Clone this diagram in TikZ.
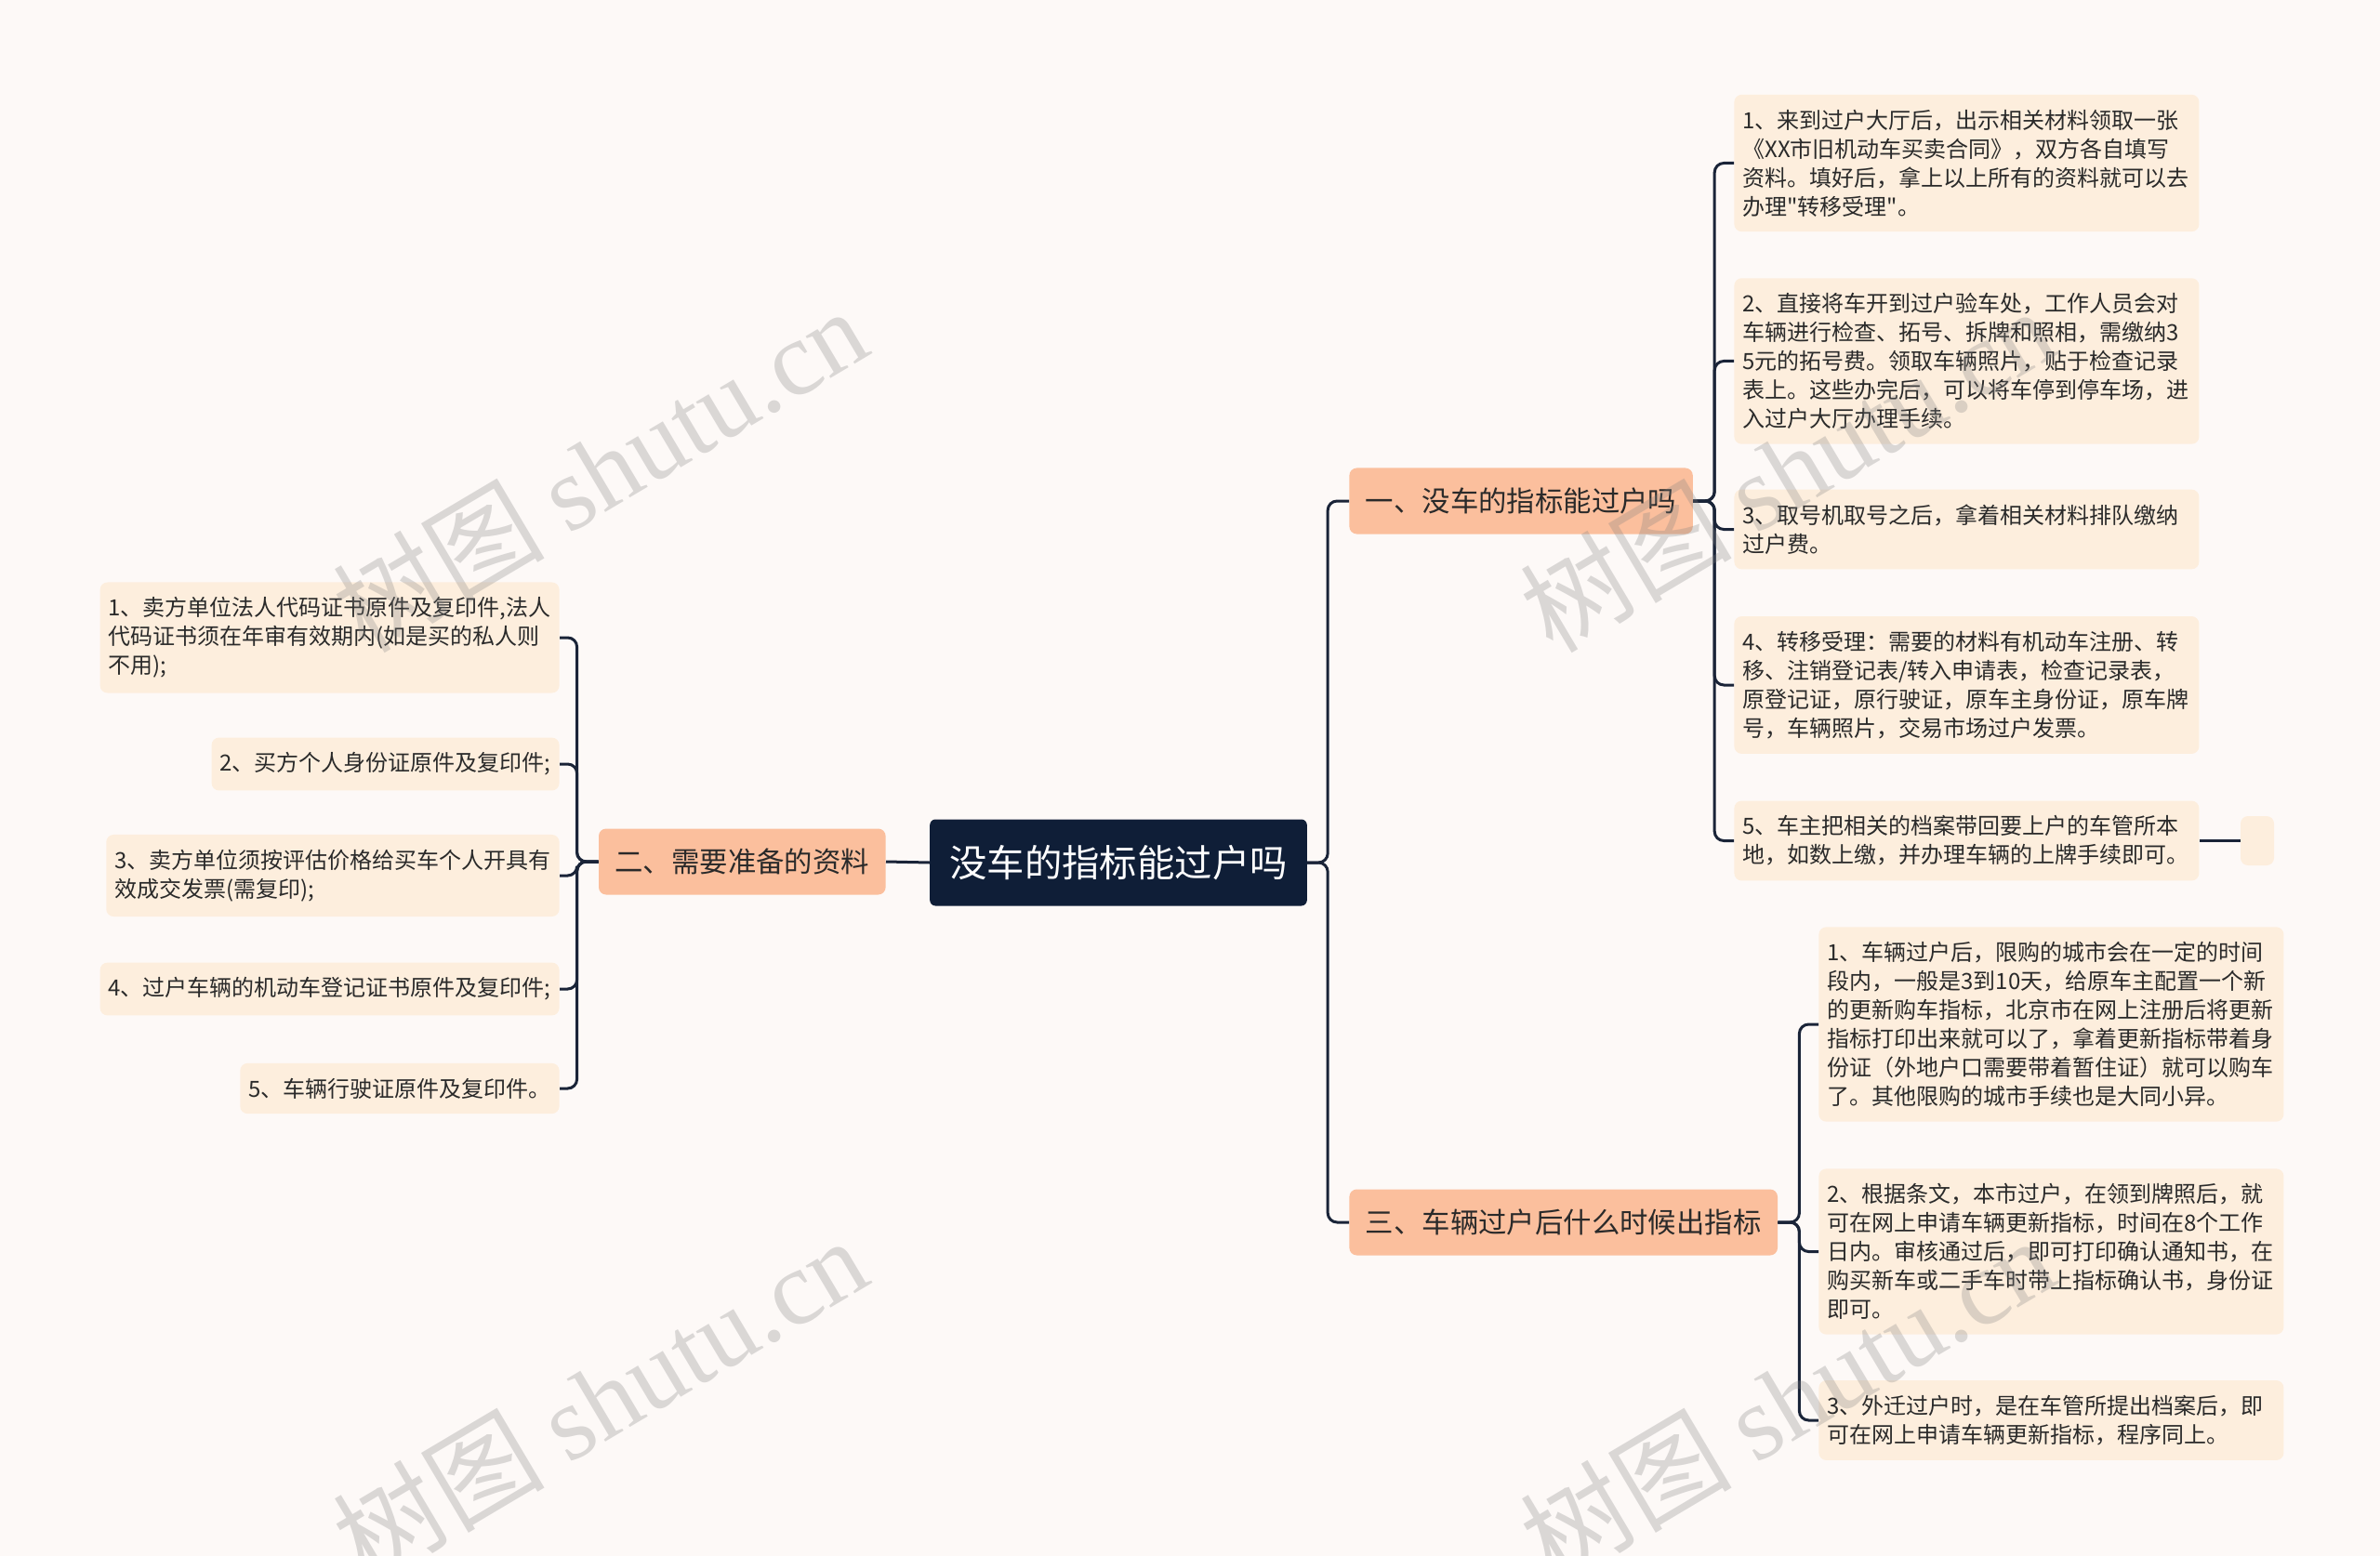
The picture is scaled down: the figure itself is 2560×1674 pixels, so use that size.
\documentclass[tikz,border=0pt]{standalone}
\usepackage{fontspec}
\setmainfont{Noto Sans CJK SC}
\newfontfamily\plaincjk{Noto Sans CJK SC}
\newfontfamily\wmfont{Liberation Serif}
\usepackage{tikz}
\usetikzlibrary{positioning}

\definecolor{pagebg}{HTML}{FDF9F7}
\definecolor{rootnavy}{HTML}{0F1E37}
\definecolor{topicpeach}{HTML}{FBBF9D}
\definecolor{leafcream}{HTML}{FDEEDD}
\definecolor{linknavy}{HTML}{1A2438}
\definecolor{textdark}{HTML}{2A2A2A}

\begin{document}
\begin{tikzpicture}[x=0.5pt, y=-0.5pt,
  box/.style={rounded corners=4pt, inner xsep=4.5pt, inner ysep=8pt, text=textdark},
  root/.style={box, fill=rootnavy, text=white, font=\fontsize{20.2}{24}\selectfont, inner xsep=10.5pt, minimum height=46.5pt, rounded corners=3pt},
  topic/.style={box, fill=topicpeach, font=\fontsize{15.2}{18}\selectfont, inner xsep=8.75pt, minimum height=35.5pt},
  leaf/.style={box, fill=leafcream, align=left, font=\fontsize{12}{15.5}\selectfont},
  wide/.style={leaf, text width=241pt},
  link/.style={draw=linknavy, line width=1.5pt, rounded corners=5pt},
  wmark/.style={text=gray, opacity=0.28, font=\fontsize{57}{60}\selectfont, rotate=30.7}
]
\useasboundingbox (0,0) rectangle (2560,1674);
\fill[pagebg] (0,0) rectangle (2560,1674);

\node[root] (root) at (1203,928) {没车的指标能过户吗};
\node[topic, anchor=west] (t1) at (1451,539) {一、没车的指标能过户吗};
\node[topic, anchor=east] (t2) at (953,927) {二、需要准备的资料};
\node[topic, anchor=west] (t3) at (1451,1315) {三、车辆过户后什么时候出指标};

% branch one
\node[wide, anchor=west] (a1) at (1865,175.5) {1、来到过户大厅后，出示相关材料领取一张\\《XX市旧机动车买卖合同》，双方各自填写\\资料。填好后，拿上以上所有的资料就可以去\\办理{\plaincjk "}转移受理{\plaincjk "}。};
\node[wide, anchor=west] (a2) at (1865,388.5) {2、直接将车开到过户验车处，工作人员会对\\车辆进行检查、拓号、拆牌和照相，需缴纳3\\5元的拓号费。领取车辆照片，贴于检查记录\\表上。这些办完后，可以将车停到停车场，进\\入过户大厅办理手续。};
\node[wide, anchor=west] (a3) at (1865,569.5) {3、取号机取号之后，拿着相关材料排队缴纳\\过户费。};
\node[wide, anchor=west] (a4) at (1865,737) {4、转移受理：需要的材料有机动车注册、转\\移、注销登记表/转入申请表，检查记录表，\\原登记证，原行驶证，原车主身份证，原车牌\\号，车辆照片，交易市场过户发票。};
\node[wide, anchor=west] (a5) at (1865,904.5) {5、车主把相关的档案带回要上户的车管所本\\地，如数上缴，并办理车辆的上牌手续即可。};
\node[box, fill=leafcream, minimum width=18pt, minimum height=26.5pt, inner sep=0pt] (a5x) at (2428,904.5) {};

% branch two
\node[leaf, anchor=east] (b1) at (602,686) {1、卖方单位法人代码证书原件及复印件,法人\\代码证书须在年审有效期内(如是买的私人则\\不用);};
\node[leaf, anchor=east] (b2) at (602,822) {2、买方个人身份证原件及复印件;};
\node[leaf, anchor=east] (b3) at (602,942) {3、卖方单位须按评估价格给买车个人开具有\\效成交发票(需复印);};
\node[leaf, anchor=east] (b4) at (602,1064) {4、过户车辆的机动车登记证书原件及复印件;};
\node[leaf, anchor=east] (b5) at (602,1171) {5、车辆行驶证原件及复印件。};

% branch three
\node[wide, anchor=west] (c1) at (1956,1102) {1、车辆过户后，限购的城市会在一定的时间\\段内，一般是3到10天，给原车主配置一个新\\的更新购车指标，北京市在网上注册后将更新\\指标打印出来就可以了，拿着更新指标带着身\\份证（外地户口需要带着暂住证）就可以购车\\了。其他限购的城市手续也是大同小异。};
\node[wide, anchor=west] (c2) at (1956,1346.5) {2、根据条文，本市过户，在领到牌照后，就\\可在网上申请车辆更新指标，时间在8个工作\\日内。审核通过后，即可打印确认通知书，在\\购买新车或二手车时带上指标确认书，身份证\\即可。};
\node[wide, anchor=west] (c3) at (1956,1528) {3、外迁过户时，是在车管所提出档案后，即\\可在网上申请车辆更新指标，程序同上。};

% connectors
\foreach \t in {t1,t3}{\draw[link] (root.east) -- ++(11pt,0) |- (\t.west);}
\draw[link] (root.west) -- (t2.east);
\foreach \c in {a1,a2,a3,a4,a5}{\draw[link] (t1.east) -- ++(11.5pt,0) |- (\c.west);}
\foreach \c in {b1,b2,b3,b4,b5}{\draw[link] (t2.west) -- ++(-11.5pt,0) |- (\c.east);}
\foreach \c in {c1,c2,c3}{\draw[link] (t3.east) -- ++(11.5pt,0) |- (\c.west);}
\draw[link] (a5.east) -- (a5x.west);

% watermarks
\node[wmark] (w1) at (645,505) {树图 {\wmfont shutu.cn}};
\node[wmark] (w2) at (645,1505) {树图 {\wmfont shutu.cn}};
\node[wmark] (w3) at (1922,505) {树图 {\wmfont shutu.cn}};
\node[wmark] (w4) at (1922,1505) {树图 {\wmfont shutu.cn}};
\end{tikzpicture}
\end{document}
